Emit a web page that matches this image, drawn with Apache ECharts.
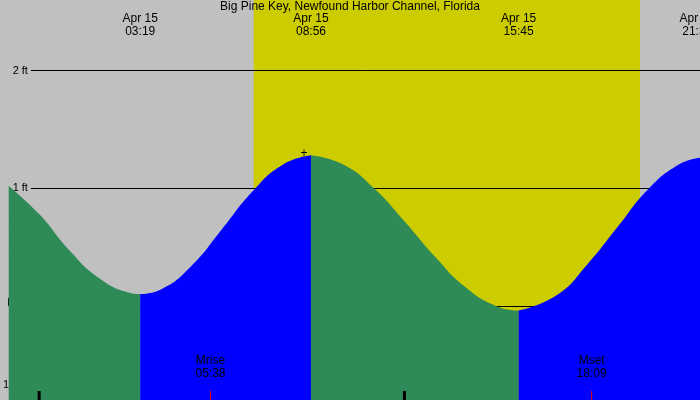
<!DOCTYPE html>
<html><head><meta charset="utf-8">
<script src="https://cdn.jsdelivr.net/npm/echarts@6/dist/echarts.min.js"></script>
<style>html,body{margin:0;padding:0;background:#c0c0c0}#c{width:700px;height:400px}</style>
</head><body><div id="c"></div>
<script>
const title = 'Big Pine Key, Newfound Harbor Channel, Florida';
const tideHours = [-1, 0, 1, 2, 3, 3.32, 4, 5, 6, 7, 8, 8.93, 10, 11, 12, 13, 14, 15, 15.75, 17, 18, 19, 20, 21, 21.71];
const tideFeet  = [1.02, 0.78, 0.47, 0.23, 0.11, 0.10, 0.14, 0.34, 0.65, 0.97, 1.20, 1.28, 1.20, 1.00, 0.72, 0.42, 0.16, 0.00, -0.04, 0.09, 0.35, 0.67, 0.99, 1.20, 1.26];
const extremeHours = [3.32, 8.93, 15.75, 21.62];
const extremeLabels = ['Apr 15\n03:19', 'Apr 15\n08:56', 'Apr 15\n15:45', 'Apr 15\n21:37'];
const daylight = [7.05, 19.74];
const moonHours = [5.63, 18.15];
const moonLabels = ['Mrise\n05:38', 'Mset\n18:09'];
const levelLines = [0, 1, 2];
const xMin = -1, xMax = 21.71;

// split into falling (green) / rising (blue) segments at extremes
const cuts = [xMin, 3.32, 8.93, 15.75, xMax];
const segs = [];
for (let i = 0; i < cuts.length - 1; i++) {
  const pts = [];
  tideHours.forEach((h, j) => { if (h >= cuts[i] && h <= cuts[i+1]) pts.push([h, tideFeet[j]]); });
  segs.push(pts);
}
const font = 'Liberation Sans, Arial, sans-serif';
const series = [{
  type: 'line', data: [], silent: true, z: 1,
  markArea: { silent: true, itemStyle: { color: '#cccc00' }, data: [[{ xAxis: daylight[0] }, { xAxis: daylight[1] }]] },
  markLine: {
    silent: true, symbol: 'none', z: 2,
    lineStyle: { color: '#000', width: 1, type: 'solid' },
    label: { position: 'start', color: '#000', fontFamily: font, fontSize: 11, distance: 3, formatter: p => p.data.v + ' ft' },
    data: levelLines.map(v => [{ coord: [-0.27, v], v: v }, { coord: [xMax, v] }])
  }
}];
segs.forEach((pts, i) => {
  series.push({
    type: 'line', data: pts, smooth: true, symbol: 'none', z: 3,
    lineStyle: { width: 0 },
    areaStyle: { color: i % 2 === 0 ? '#2e8b57' : '#0000ff', opacity: 1, origin: 'start' }
  });
});
const chart = echarts.init(document.getElementById('c'));
chart.setOption({
  animation: false,
  backgroundColor: '#c0c0c0',
  grid: { left: 0, right: 0, top: 0, bottom: 0 },
  xAxis: {
    type: 'value', min: xMin, max: xMax, interval: 1,
    axisLine: { show: false }, splitLine: { show: false },
    axisTick: { show: true, inside: true, length: 8, lineStyle: { color: '#000' } },
    axisLabel: { inside: true, margin: 10, color: '#000', fontFamily: font, fontSize: 11, showMaxLabel: false,
      formatter: v => { let h = ((Math.round(v) % 12) + 12) % 12; if (h === 0) h = 12; return String(h).padStart(2, '0'); } }
  },
  yAxis: { type: 'value', min: -0.8, max: 2.6, show: false },
  series: series
});
const g = [];
g.push({ type: 'text', left: 'center', top: 1, z: 10, style: { text: title, font: '12px ' + font, fill: '#000' } });
extremeHours.forEach((h, i) => {
  const x = chart.convertToPixel({ gridIndex: 0 }, [h, 0])[0];
  g.push({ type: 'text', x: x, y: 12, z: 10, style: { text: extremeLabels[i], font: '12px ' + font, fill: '#000', align: 'center', lineHeight: 13 } });
});
moonHours.forEach((h, i) => {
  const x = chart.convertToPixel({ gridIndex: 0 }, [h, 0])[0];
  g.push({ type: 'text', x: x, y: 354, z: 10, style: { text: moonLabels[i], font: '12px ' + font, fill: '#000', align: 'center', lineHeight: 13 } });
  g.push({ type: 'line', z: 10, shape: { x1: x, y1: 391, x2: x, y2: 400 }, style: { stroke: '#ff0000', lineWidth: 1 } });
});
[0, 12].forEach(h => {
  const x = chart.convertToPixel({ gridIndex: 0 }, [h, 0])[0];
  g.push({ type: 'line', z: 10, shape: { x1: x, y1: 391, x2: x, y2: 400 }, style: { stroke: '#000', lineWidth: 3 } });
});
const hp = chart.convertToPixel({ gridIndex: 0 }, [8.93, 1.28]);
g.push({ type: 'text', x: hp[0] - 7, y: hp[1] - 2, z: 10, style: { text: '+', font: '12px ' + font, fill: '#000', align: 'center', verticalAlign: 'middle' } });
chart.setOption({ graphic: g });
</script></body></html>
